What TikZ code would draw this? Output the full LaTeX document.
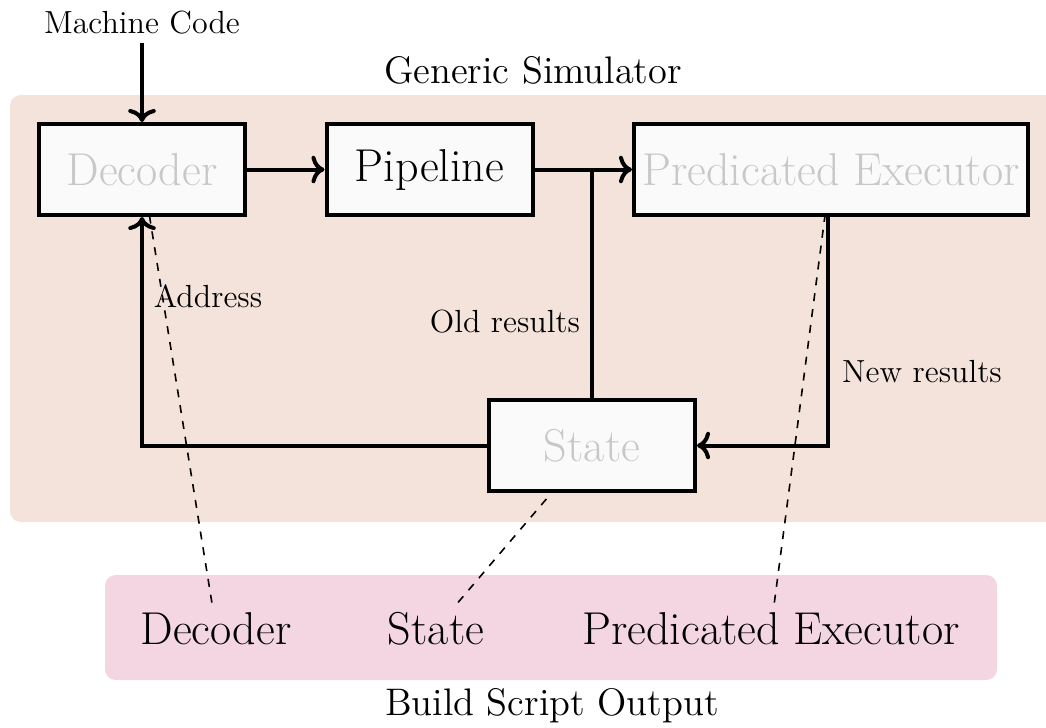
\documentclass[tikz,border=0pt]{standalone}
\usetikzlibrary{arrows.meta}
\definecolor{simbg}{RGB}{244,227,218}
\definecolor{buildbg}{RGB}{243,214,226}
\definecolor{boxfill}{RGB}{250,250,250}
\definecolor{ghost}{RGB}{200,200,200}
\begin{document}
\begin{tikzpicture}[x=0.375pt,y=-0.375pt,
  unit/.style={draw, line width=1.5pt, fill=boxfill, minimum height=34.1pt,
    minimum width=77.25pt, inner sep=0pt, font=\fontsize{17.28}{20}\selectfont},
  faded/.style={unit, text=ghost},
  biglabel/.style={font=\fontsize{17.28}{20}\selectfont, anchor=base},
  title/.style={font=\fontsize{14.4}{17}\selectfont},
  small/.style={font=\fontsize{12}{14}\selectfont, anchor=base},
  flow/.style={line width=1.5pt},
  link/.style={dashed, line width=0.6pt}]
\useasboundingbox (0,0) rectangle (1046,727);

% panels
\fill[simbg, rounded corners=4pt] (10,95) rectangle (1080,522);
\fill[buildbg, rounded corners=4pt] (105,575) rectangle (997,680);

% titles
\node[title] (simtitle) at (533,70) {Generic Simulator};
\node[title, anchor=base] (buildtitle) at (552,715) {Build Script Output};
\node[small] (mc) at (142,33) {Machine Code};

% simulator units
\node[faded] (dec) at (142,169.5) {Decoder};
\node[unit] (pipe) at (429.5,169.5) {Pipeline};
\node[faded, minimum width=147.75pt] (pe) at (831,169.5) {Predicated Executor};
\node[faded] (state) at (592,445.5) {State};

% generated sources
\node[biglabel] (bdec) at (216,644) {Decoder};
\node[biglabel] (bstate) at (436,644) {State};
\node[biglabel] (bpe) at (771,644) {Predicated Executor};

% data flow
\draw[flow, ->] (mc) -- (dec);
\draw[flow, ->] (dec) -- (pipe);
\draw[flow, ->] (pipe) -- (pe);
\coordinate (tap) at (pipe.east -| state.north);
\draw[flow] (state.north) -- (tap);
\coordinate (peout) at ([xshift=-1]pe.south);
\draw[flow, ->] (peout) |- (state.east);
\draw[flow, ->] (state.west) -| (dec.south);

% flow labels
\node[small] (addr) at (208,307) {Address};
\node[small] (oldr) at (505,332) {Old results};
\node[small] (newr) at (922,382) {New results};

% build outputs to units
\draw[link] (bdec) -- (dec);
\draw[link] (bstate) -- (state);
\draw[link] (bpe) -- (pe);
\end{tikzpicture}
\end{document}
